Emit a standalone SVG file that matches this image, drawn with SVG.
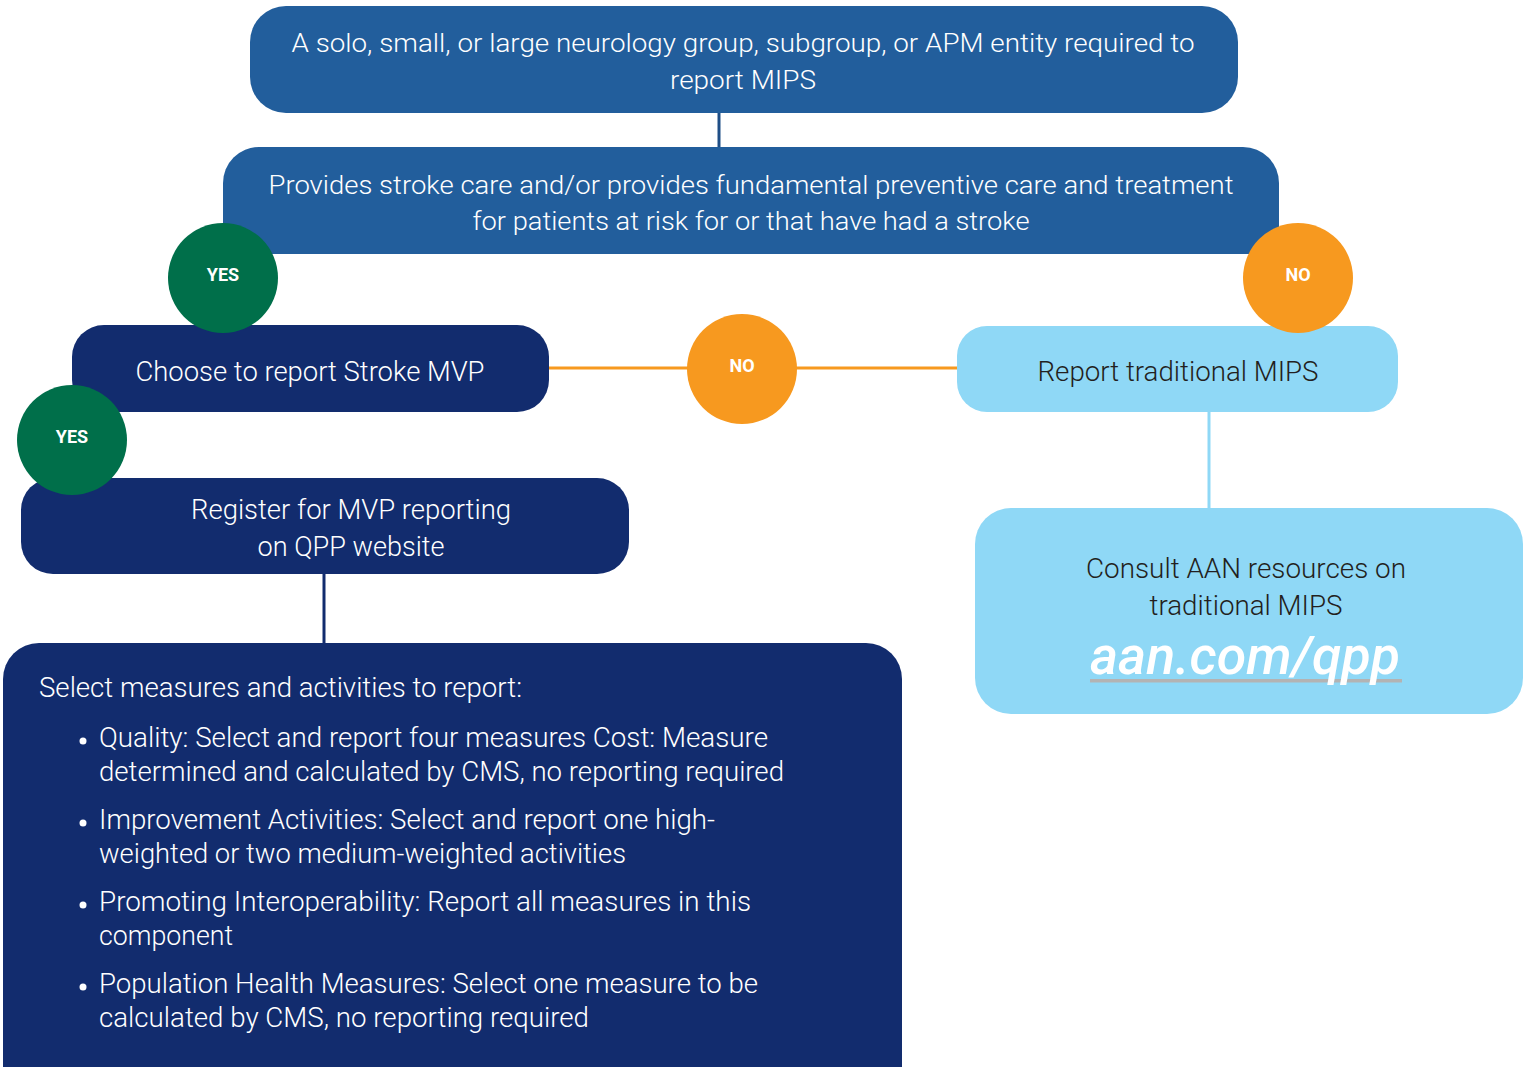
<svg xmlns="http://www.w3.org/2000/svg" width="1532" height="1067" viewBox="0 0 1532 1067">
<style>
.t{font-family:Roboto,"Liberation Sans",sans-serif;font-weight:300;fill:#ffffff}
.d{fill:#231f20}
.c{text-anchor:middle}
.lbl{font-family:Roboto,"Liberation Sans",sans-serif;font-weight:700;font-size:18px;fill:#ffffff;text-anchor:middle}
.mid{fill:#225e9c}
.navy{fill:#122c6e}
.light{fill:#8fd8f6}
.yes{fill:#006f4a}
.no{fill:#f7991f}
</style>
<rect width="1532" height="1067" fill="#ffffff"/>
<g id="connectors" fill="none" stroke-width="3">
<line x1="719" y1="112" x2="719" y2="148" stroke="#1f4e86"/>
<line x1="548" y1="368" x2="958" y2="368" stroke="#f7991f"/>
<line x1="1209" y1="411" x2="1209" y2="509" stroke="#8fd8f6"/>
<line x1="324" y1="573" x2="324" y2="644" stroke="#122c6e"/>
</g>
<g id="n-start">
<rect class="mid" x="250" y="6" width="988" height="107" rx="36"/>
<text class="t c" font-size="26" x="743" y="52" textLength="903" lengthAdjust="spacingAndGlyphs">A solo, small, or large neurology group, subgroup, or APM entity required to</text>
<text class="t c" font-size="26" x="743" y="89" textLength="146" lengthAdjust="spacingAndGlyphs">report MIPS</text>
</g>
<g id="n-stroke">
<path class="mid" d="M259,147 H1243 A36,36 0 0 1 1279,183 V254 H223 V183 A36,36 0 0 1 259,147 Z"/>
<text class="t c" font-size="26" x="751" y="194" textLength="965" lengthAdjust="spacingAndGlyphs">Provides stroke care and/or provides fundamental preventive care and treatment</text>
<text class="t c" font-size="26" x="751" y="230" textLength="557" lengthAdjust="spacingAndGlyphs">for patients at risk for or that have had a stroke</text>
</g>
<g id="n-mvp">
<rect class="navy" x="72" y="325" width="477" height="87" rx="32"/>
<text class="t c" font-size="27" x="310" y="381" textLength="349" lengthAdjust="spacingAndGlyphs">Choose to report Stroke MVP</text>
</g>
<g id="n-register">
<rect class="navy" x="21" y="478" width="608" height="96" rx="32"/>
<text class="t c" font-size="27" x="351" y="519" textLength="320" lengthAdjust="spacingAndGlyphs">Register for MVP reporting</text>
<text class="t c" font-size="27" x="351" y="556" textLength="187" lengthAdjust="spacingAndGlyphs">on QPP website</text>
</g>
<g id="n-select">
<rect class="navy" x="3" y="643" width="899" height="470" rx="36"/>
<text class="t" font-size="28" x="39" y="697" textLength="483" lengthAdjust="spacingAndGlyphs">Select measures and activities to report:</text>
<g fill="#ffffff">
<circle cx="83" cy="741" r="3.5"/>
<circle cx="83" cy="823" r="3.5"/>
<circle cx="83" cy="905" r="3.5"/>
<circle cx="83" cy="987" r="3.5"/>
</g>
<text class="t" font-size="28" x="99" y="747" textLength="669" lengthAdjust="spacingAndGlyphs">Quality: Select and report four measures Cost: Measure</text>
<text class="t" font-size="28" x="99" y="781" textLength="685" lengthAdjust="spacingAndGlyphs">determined and calculated by CMS, no reporting required</text>
<text class="t" font-size="28" x="99" y="829" textLength="616" lengthAdjust="spacingAndGlyphs">Improvement Activities: Select and report one high-</text>
<text class="t" font-size="28" x="99" y="863" textLength="527" lengthAdjust="spacingAndGlyphs">weighted or two medium-weighted activities</text>
<text class="t" font-size="28" x="99" y="911" textLength="652" lengthAdjust="spacingAndGlyphs">Promoting Interoperability: Report all measures in this</text>
<text class="t" font-size="28" x="99" y="945" textLength="134" lengthAdjust="spacingAndGlyphs">component</text>
<text class="t" font-size="28" x="99" y="993" textLength="659" lengthAdjust="spacingAndGlyphs">Population Health Measures: Select one measure to be</text>
<text class="t" font-size="28" x="99" y="1027" textLength="490" lengthAdjust="spacingAndGlyphs">calculated by CMS, no reporting required</text>
</g>
<g id="n-traditional">
<rect class="light" x="957" y="326" width="441" height="86" rx="30"/>
<text class="t d c" font-size="27" x="1178" y="381" textLength="281" lengthAdjust="spacingAndGlyphs">Report traditional MIPS</text>
</g>
<g id="n-consult">
<rect class="light" x="975" y="508" width="548" height="206" rx="36"/>
<text class="t d c" font-size="27" x="1246" y="578" textLength="320" lengthAdjust="spacingAndGlyphs">Consult AAN resources on</text>
<text class="t d c" font-size="27" x="1246" y="615" textLength="193" lengthAdjust="spacingAndGlyphs">traditional MIPS</text>
<rect x="1090" y="679" width="312" height="3.5" fill="#b3b3b3"/>
<text x="1245" y="674" font-family="Roboto,'Liberation Sans',sans-serif" font-style="italic" font-weight="500" font-size="54" fill="#ffffff" text-anchor="middle" textLength="310" lengthAdjust="spacingAndGlyphs">aan.com/qpp</text>
</g>
<g id="b-yes1">
<circle class="yes" cx="223" cy="278" r="55"/>
<text class="lbl" x="223" y="281">YES</text>
</g>
<g id="b-no1">
<circle class="no" cx="1298" cy="278" r="55"/>
<text class="lbl" x="1298" y="281">NO</text>
</g>
<g id="b-no2">
<circle class="no" cx="742" cy="369" r="55"/>
<text class="lbl" x="742" y="372">NO</text>
</g>
<g id="b-yes2">
<circle class="yes" cx="72" cy="440" r="55"/>
<text class="lbl" x="72" y="443">YES</text>
</g>
</svg>
